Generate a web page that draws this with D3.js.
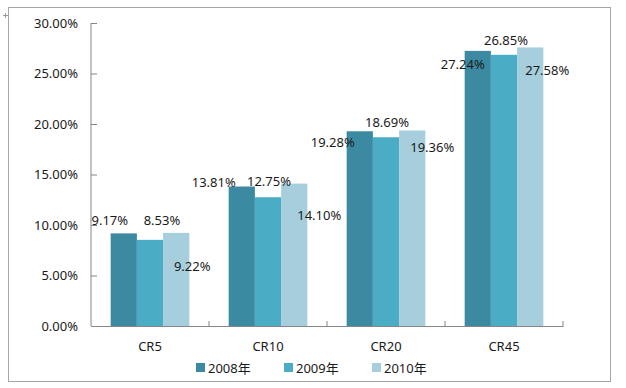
<!DOCTYPE html>
<html>
<head>
<meta charset="utf-8">
<script src="https://cdn.jsdelivr.net/npm/d3@7"></script>
<style>
  body { margin: 0; background: #fff; }
  text { font-family: "Noto Sans", "Noto Sans CJK SC", sans-serif; fill: #1a1a1a; }
</style>
</head>
<body>
<svg width="626" height="388"></svg>
<script>
// data
var categories = ["CR5", "CR10", "CR20", "CR45"];
var seriesNames = ["2008年", "2009年", "2010年"];
var values2008 = [9.17, 13.81, 19.28, 27.24];
var values2009 = [8.53, 12.75, 18.69, 26.85];
var values2010 = [9.22, 14.10, 19.36, 27.58];
var yTicks = [0, 5, 10, 15, 20, 25, 30];

// placement of the value labels, relative to the top centre of each bar
var labelShift = [
  [[-14, -13], [-28, -5], [-27, 11], [-15, 13]],
  [[12, -20], [1, -16], [1, -15], [2, -15]],
  [[16, 33], [25, 31], [20, 17], [17, 23]]
];

var colors = ["#3c8aa2", "#4bacc6", "#a6cedc"];

var svg = d3.select("svg"),
    margin = {top: 23, left: 91, right: 63, bottom: 62},
    width = 626 - margin.left - margin.right,
    height = 388 - margin.top - margin.bottom;

// outer frame
svg.append("rect")
    .attr("x", 8.5).attr("y", 7.5)
    .attr("width", 602).attr("height", 374)
    .attr("fill", "none")
    .attr("stroke", "#a6a6a6");

svg.append("path")
    .attr("d", "M3,15.5H8M5.5,13V18")
    .attr("stroke", "#999")
    .attr("fill", "none");

var series = [values2008, values2009, values2010];

var x = d3.scaleBand().domain(categories).range([0, width]).paddingInner(0).paddingOuter(0);
var x1 = d3.scaleBand().domain(d3.range(seriesNames.length))
    .range([0, x.bandwidth()]).paddingOuter(0.75).paddingInner(0);
var y = d3.scaleLinear().domain([0, 30]).range([height, 0]);

var g = svg.append("g")
    .attr("transform", "translate(" + margin.left + "," + margin.top + ")");

// y axis
var yAxis = g.append("g")
    .call(d3.axisLeft(y).tickValues(yTicks).tickSize(-6).tickPadding(13)
      .tickFormat(function(d) { return d.toFixed(2) + "%"; }));
yAxis.select(".domain").attr("stroke", "#868686").attr("d", "M0," + y(30) + "V" + y(0));
yAxis.selectAll(".tick line").attr("stroke", "#868686");
yAxis.selectAll("text").style("font-size", "13px").attr("fill", "#1a1a1a");

// bars
series.forEach(function(vals, s) {
  g.selectAll(".bar" + s)
    .data(vals)
    .enter().append("rect")
      .attr("class", "bar" + s)
      .attr("x", function(d, i) { return x(categories[i]) + x1(s); })
      .attr("y", function(d) { return y(d); })
      .attr("width", x1.bandwidth())
      .attr("height", function(d) { return height - y(d); })
      .attr("fill", colors[s]);
});

// x axis
var xAxis = g.append("g")
    .attr("transform", "translate(0," + height + ")")
    .call(d3.axisBottom(x).tickSize(0).tickPadding(16));
xAxis.select(".domain").attr("stroke", "#868686");
xAxis.selectAll("text").style("font-size", "13px").attr("fill", "#1a1a1a");
xAxis.selectAll(".sep")
    .data(categories)
    .enter().append("line")
      .attr("x1", function(d) { return x(d) + x.bandwidth(); })
      .attr("x2", function(d) { return x(d) + x.bandwidth(); })
      .attr("y1", 0).attr("y2", -5)
      .attr("stroke", "#868686");

// value labels
series.forEach(function(vals, s) {
  g.selectAll(".lab" + s)
    .data(vals)
    .enter().append("text")
      .attr("class", "lab" + s)
      .attr("text-anchor", "middle")
      .attr("dominant-baseline", "central")
      .style("font-size", "13px")
      .attr("x", function(d, i) { return x(categories[i]) + x1(s) + x1.bandwidth() / 2 + labelShift[s][i][0]; })
      .attr("y", function(d, i) { return y(d) + labelShift[s][i][1]; })
      .text(function(d) { return d.toFixed(2) + "%"; });
});

// legend
var legend = svg.append("g")
    .attr("transform", "translate(196,363)");
var item = legend.selectAll("g")
    .data(seriesNames)
    .enter().append("g")
      .attr("transform", function(d, i) { return "translate(" + (i * 88) + ",0)"; });
item.append("rect")
    .attr("width", 9).attr("height", 9)
    .attr("fill", function(d, i) { return colors[i]; });
item.append("text")
    .attr("x", 12).attr("y", 4.5)
    .attr("dominant-baseline", "central")
    .style("font-size", "13px")
    .text(function(d) { return d; });
</script>
</body>
</html>
